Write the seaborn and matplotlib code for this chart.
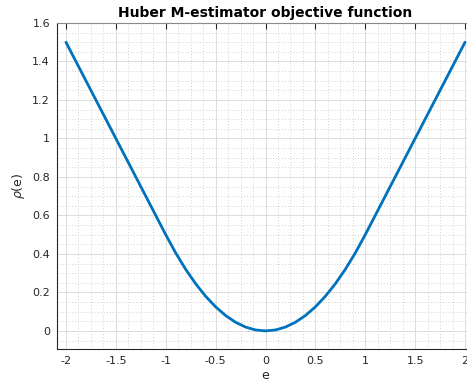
import numpy as np
import pandas as pd
import matplotlib
matplotlib.use("Agg")
import matplotlib.pyplot as plt
from matplotlib.ticker import MultipleLocator, FuncFormatter
import seaborn as sns

# Residual values e and Huber objective rho(e) (threshold k = 1)
e_values = [-2.0, -1.9, -1.8, -1.7, -1.6, -1.5, -1.4, -1.3, -1.2, -1.1,
            -1.0, -0.9, -0.8, -0.7, -0.6, -0.5, -0.4, -0.3, -0.2, -0.1,
            0.0, 0.1, 0.2, 0.3, 0.4, 0.5, 0.6, 0.7, 0.8, 0.9,
            1.0, 1.1, 1.2, 1.3, 1.4, 1.5, 1.6, 1.7, 1.8, 1.9, 2.0]
rho_values = [1.5, 1.4, 1.3, 1.2, 1.1, 1.0, 0.9, 0.8, 0.7, 0.6,
              0.5, 0.405, 0.32, 0.245, 0.18, 0.125, 0.08, 0.045, 0.02, 0.005,
              0.0, 0.005, 0.02, 0.045, 0.08, 0.125, 0.18, 0.245, 0.32, 0.405,
              0.5, 0.6, 0.7, 0.8, 0.9, 1.0, 1.1, 1.2, 1.3, 1.4, 1.5]

x_ticks = [-2, -1.5, -1, -0.5, 0, 0.5, 1, 1.5, 2]
y_ticks = [0, 0.2, 0.4, 0.6, 0.8, 1.0, 1.2, 1.4, 1.6]

df = pd.DataFrame({"e": e_values, "rho": rho_values})

sns.set_style("white")
plt.rcParams["font.family"] = ["DejaVu Sans"]

fig = plt.figure(figsize=(4.67, 3.87), dpi=100)
ax = fig.add_axes([57 / 467, 38 / 387, (474 - 57) / 467, 326 / 387])

sns.lineplot(data=df, x="e", y="rho", ax=ax, color="#0072BD",
             linewidth=2.0, zorder=3)

ax.set_xlim(-2.09, 2.09)
ax.set_ylim(-0.094, 1.6)
ax.set_xticks(x_ticks)
ax.set_yticks(y_ticks)
fmt = FuncFormatter(lambda v, p: f"{v:g}")
ax.xaxis.set_major_formatter(fmt)
ax.yaxis.set_major_formatter(fmt)
ax.xaxis.set_minor_locator(MultipleLocator(0.125))
ax.yaxis.set_minor_locator(MultipleLocator(0.05))

ax.grid(True, which="major", color="#dcdcdc", linewidth=0.7, linestyle="-")
ax.grid(True, which="minor", color="#c4c4c4", linewidth=0.6,
        linestyle=(0, (1, 2.5)))
ax.set_axisbelow(True)

ax.tick_params(axis="both", which="major", direction="in", length=4,
               width=0.8, color="#262626", labelsize=8, labelcolor="#262626",
               top=True, right=True, pad=5)
ax.tick_params(axis="both", which="minor", length=0)

for side in ["left", "bottom"]:
    ax.spines[side].set_color("#262626")
    ax.spines[side].set_linewidth(0.8)
for side in ["top", "right"]:
    ax.spines[side].set_color("#8a8a8a")
    ax.spines[side].set_linewidth(0.8)

ax.set_title("Huber M-estimator objective function", fontsize=10,
             fontweight="bold", color="black", pad=4)
ax.set_xlabel("e", fontsize=9, color="#262626", labelpad=2)
ax.set_ylabel(r"$\rho$(e)", fontsize=9, color="#262626", labelpad=4)

fig.savefig("out.png", dpi=100)
